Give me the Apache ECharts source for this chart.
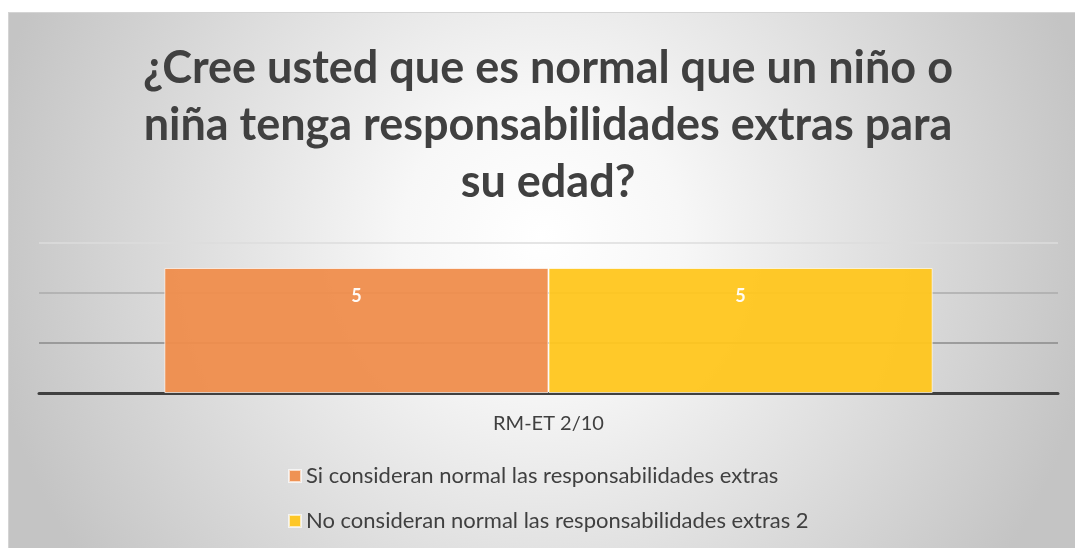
<!DOCTYPE html>
<html>
<head>
<meta charset="utf-8">
<script src="https://cdn.jsdelivr.net/npm/echarts@6/dist/echarts.min.js"></script>
<style>
  html, body { margin: 0; padding: 0; background: #ffffff; }
  #chart {
    position: absolute;
    left: 8px;
    top: 12px;
    width: 1067px;
    height: 536px;
    border-top: 1px solid #d4d4d4;
    border-left: 1px solid #d4d4d4;
    box-sizing: border-box;
  }
</style>
</head>
<body>
<div id="chart"></div>
<script>
const categories = ["RM-ET 2/10"];
const seriesNames = [
  "Si consideran normal las responsabilidades extras",
  "No consideran normal las responsabilidades extras 2"
];
const siValues = [5];
const noValues = [5];

const chart = echarts.init(document.getElementById("chart"));
const colors = ["#EF8D4C", "#FFC61E"];

const option = {
  color: colors,
  backgroundColor: {
    type: "radial",
    x: 0.5,
    y: 0.42,
    r: 1.05,
    colorStops: [
      { offset: 0, color: "#ffffff" },
      { offset: 0.25, color: "#f7f7f7" },
      { offset: 1, color: "#c4c4c4" }
    ]
  },
  title: {
    text: "¿Cree usted que es normal que un niño o\nniña tenga responsabilidades extras para\nsu edad?",
    left: 534,
    top: 22,
    textAlign: "center",
    textStyle: {
      fontFamily: "Lato",
      fontWeight: "bold",
      fontSize: 45,
      lineHeight: 57,
      color: "#404040"
    }
  },
  legend: {
    orient: "vertical",
    left: 274,
    top: 447,
    itemWidth: 12,
    itemHeight: 12,
    itemGap: 23,
    icon: "rect",
    textStyle: {
      fontFamily: "Lato",
      fontSize: 22,
      color: "#404040"
    },
    data: seriesNames
  },
  grid: {
    left: 30,
    right: 17,
    top: 230,
    bottom: 155
  },
  xAxis: {
    type: "category",
    data: categories,
    axisTick: { show: false },
    axisLine: { lineStyle: { color: "#404040", width: 3 } },
    axisLabel: {
      margin: 21,
      fontFamily: "Lato",
      fontSize: 20,
      color: "#404040"
    }
  },
  yAxis: {
    type: "value",
    min: 0,
    max: 6,
    interval: 2,
    axisLabel: { show: false },
    axisLine: { show: false },
    axisTick: { show: false },
    splitLine: {
      lineStyle: { color: ["#555555", "#8a8a8a", "#ababab", "#dddddd"], width: 1.5 }
    }
  },
  series: [
    {
      name: seriesNames[0],
      type: "bar",
      data: siValues,
      barGap: "0%",
      barCategoryGap: "24.6%",
      itemStyle: { opacity: 0.95, borderColor: "rgba(255,255,255,0.7)", borderWidth: 1 },
      label: {
        show: true,
        position: "insideTop",
        distance: 19,
        color: "#ffffff",
        fontFamily: "Lato",
        fontWeight: "bold",
        fontSize: 18
      }
    },
    {
      name: seriesNames[1],
      type: "bar",
      data: noValues,
      itemStyle: { opacity: 0.95, borderColor: "rgba(255,255,255,0.7)", borderWidth: 1 },
      label: {
        show: true,
        position: "insideTop",
        distance: 19,
        color: "#ffffff",
        fontFamily: "Lato",
        fontWeight: "bold",
        fontSize: 18
      }
    }
  ]
};

chart.setOption(option);
</script>
</body>
</html>
